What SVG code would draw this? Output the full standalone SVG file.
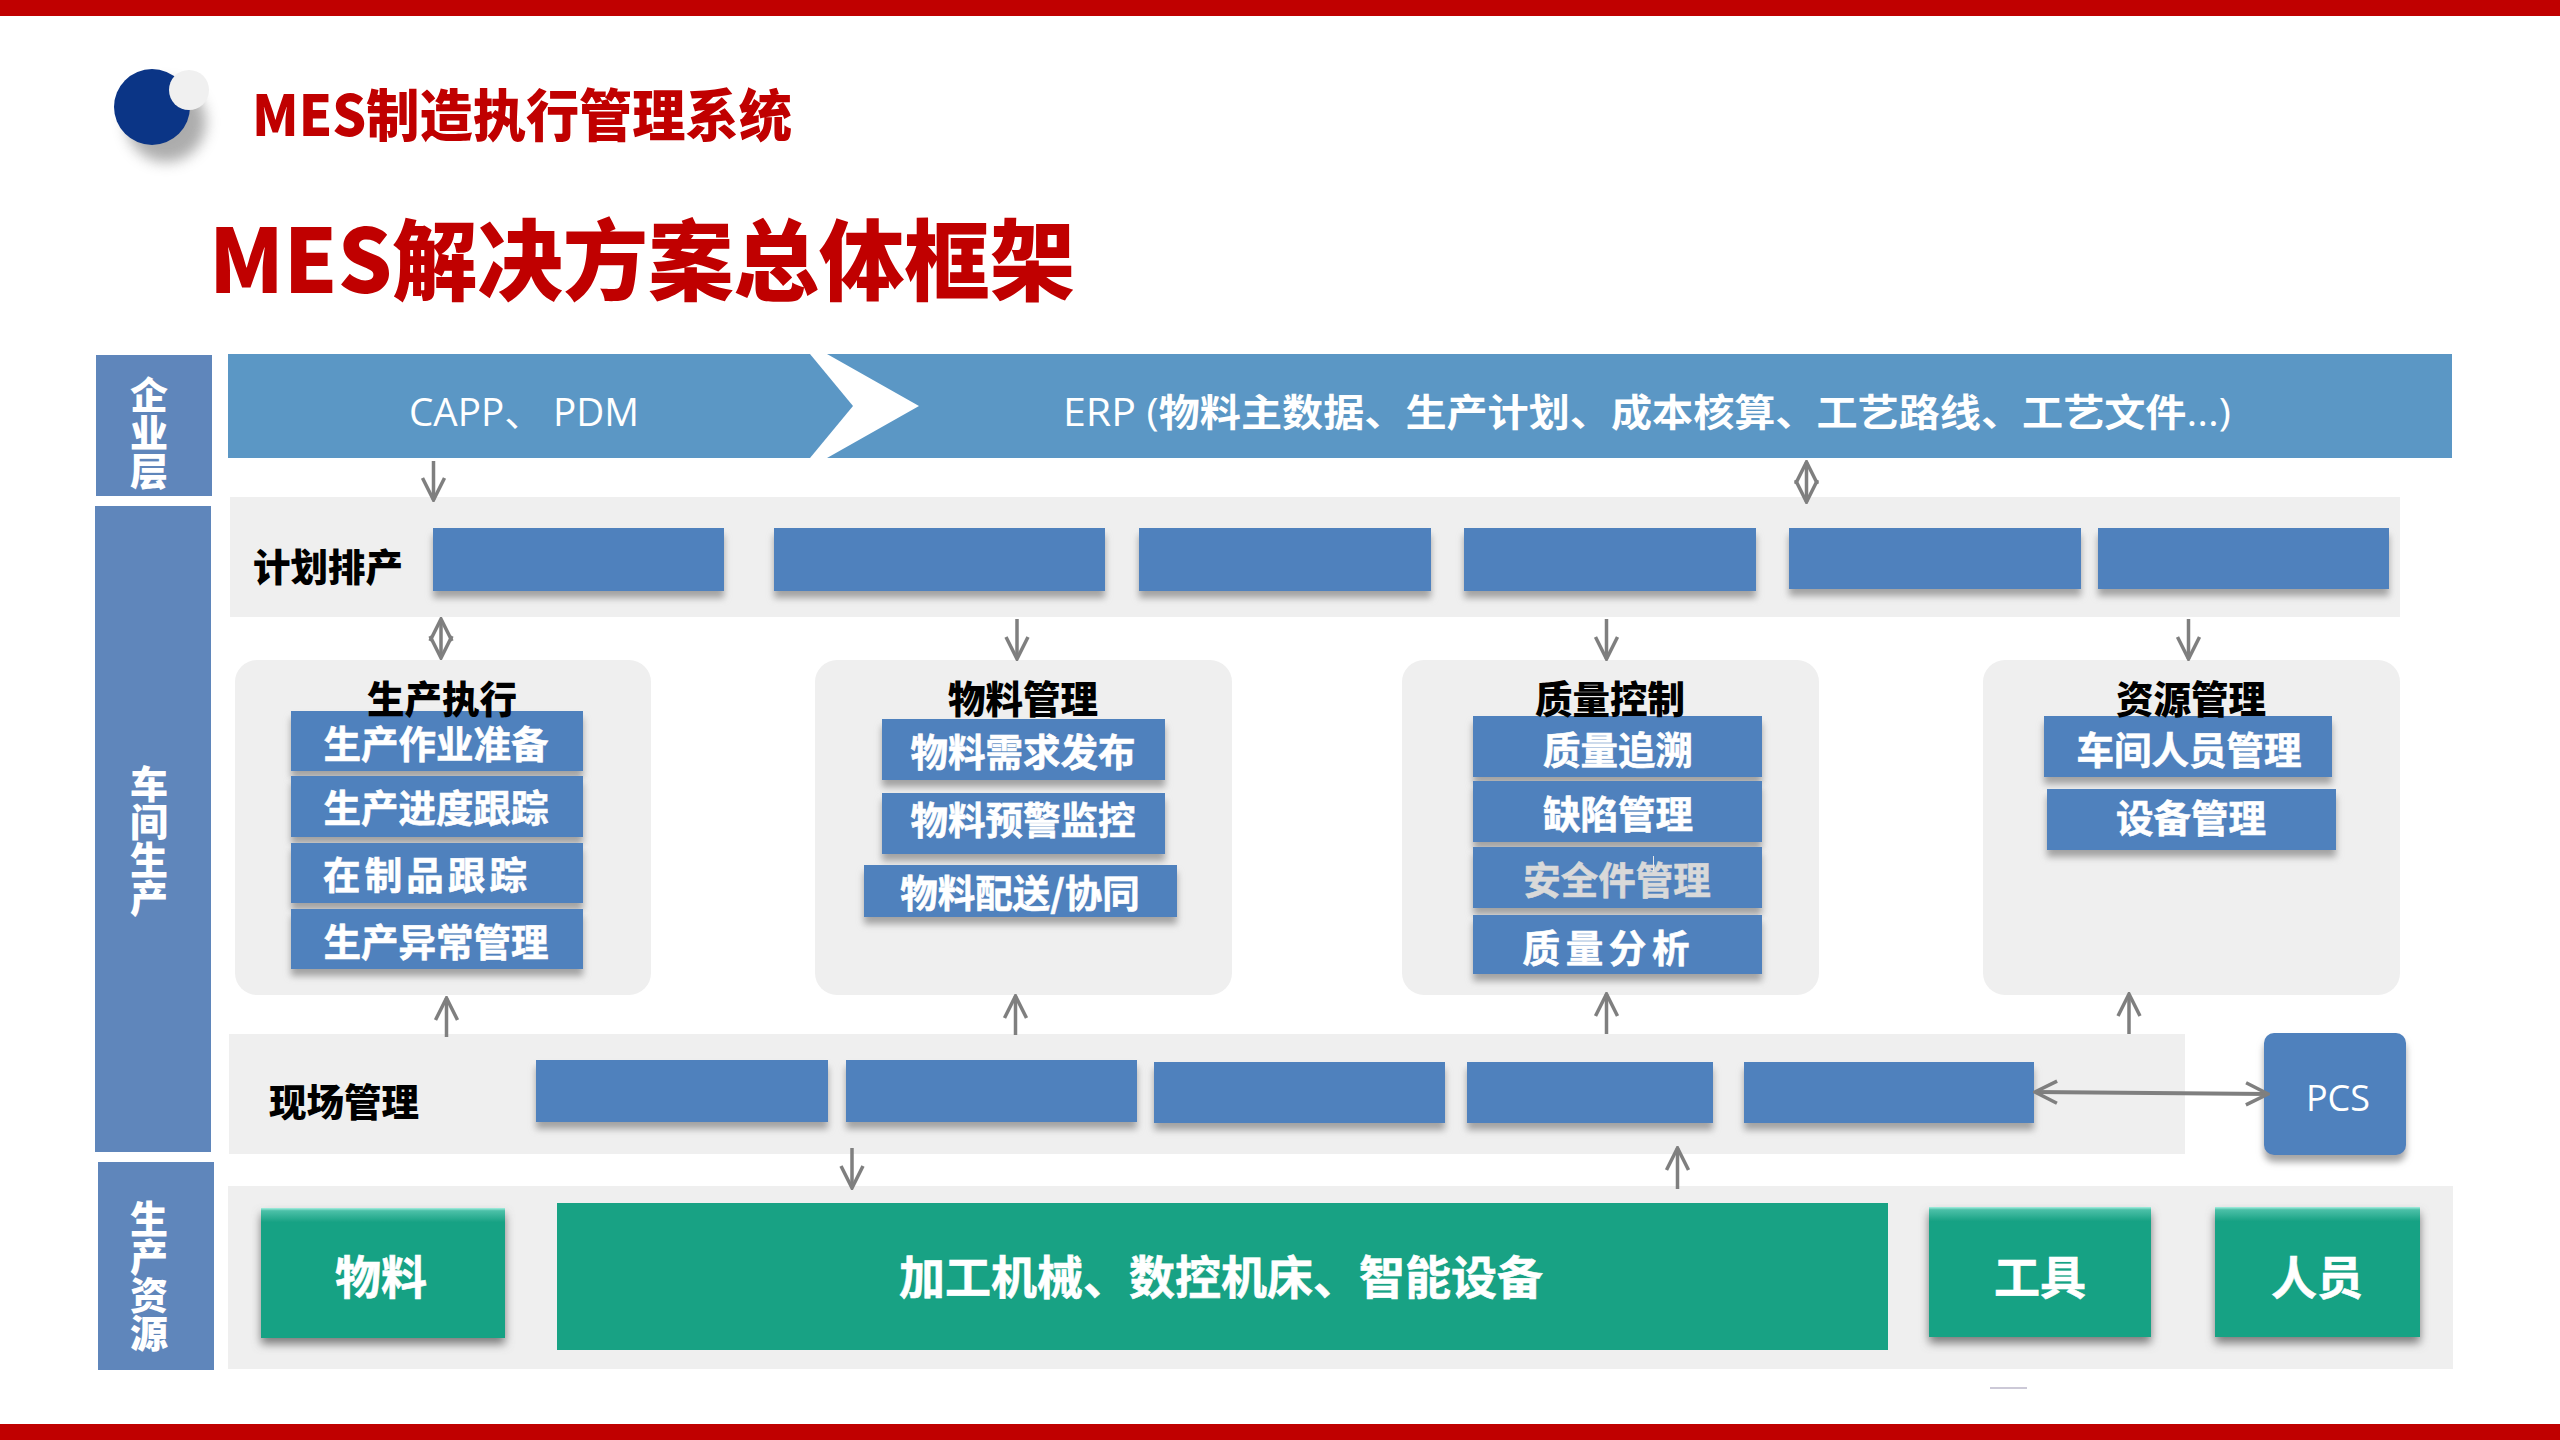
<svg xmlns="http://www.w3.org/2000/svg" width="2560" height="1440" viewBox="0 0 2560 1440">
<style>
text{font-family:"Noto Sans CJK SC","Noto Sans",sans-serif;text-anchor:middle;dominant-baseline:central}
.w{fill:#fff;font-weight:700;stroke:#fff;stroke-width:.6}
.sub{font-size:37.500px}
.k{fill:#000;font-weight:900;font-size:37.500px}
.r{fill:#c00000;font-weight:900}
.v{fill:#fff;font-weight:900;font-size:38px;writing-mode:vertical-rl}
.side{fill:#5f86bb}
.panel{fill:#efefef}
.b{fill:#4f81bd;filter:url(#sh)}
.g{fill:#18a284;filter:url(#shg)}
.a{fill:none;stroke:#7f7f7f;stroke-width:3.500;marker-end:url(#ah)}
.a2{fill:none;stroke:#7f7f7f;stroke-width:3.500;marker-end:url(#ah);marker-start:url(#ahs)}
.lat{font-family:"Open Sans","Noto Sans CJK SC",sans-serif}
</style>
<defs>
<filter id="sh" x="-10%" y="-20%" width="120%" height="150%"><feGaussianBlur in="SourceAlpha" stdDeviation="3.500"/><feOffset dy="7"/><feColorMatrix values="0 0 0 0 .3 0 0 0 0 .3 0 0 0 0 .3 0 0 0 .85 0"/><feMerge><feMergeNode/><feMergeNode in="SourceGraphic"/></feMerge></filter>
<filter id="shg" x="-10%" y="-10%" width="120%" height="125%"><feGaussianBlur in="SourceAlpha" stdDeviation="5"/><feOffset dy="6"/><feColorMatrix values="0 0 0 0 .2 0 0 0 0 .2 0 0 0 0 .2 0 0 0 1 0"/><feMerge><feMergeNode/><feMergeNode in="SourceGraphic"/></feMerge></filter>
<filter id="ls" x="-30%" y="-30%" width="170%" height="170%"><feGaussianBlur stdDeviation="7"/></filter>
<linearGradient id="bevel" x1="0" y1="0" x2="0" y2="1"><stop offset="0" stop-color="#a5efe0"/><stop offset=".2" stop-color="#4cc0a8"/><stop offset="1" stop-color="#18a284"/></linearGradient>
<marker id="ah" markerUnits="userSpaceOnUse" markerWidth="30" markerHeight="28" viewBox="0 0 30 28" refX="28" refY="14" orient="auto"><path d="M6 3 L28 14 L6 25" fill="none" stroke="#7f7f7f" stroke-width="3.500"/></marker>
<marker id="ahs" markerUnits="userSpaceOnUse" markerWidth="30" markerHeight="28" viewBox="0 0 30 28" refX="2" refY="14" orient="auto"><path d="M24 3 L2 14 L24 25" fill="none" stroke="#7f7f7f" stroke-width="3.500"/></marker>
</defs>
<rect width="2560" height="1440" fill="#fff"/>
<rect width="2560" height="16" fill="#c00000"/>
<rect y="1424" width="2560" height="16" fill="#c00000"/>
<g id="logo">
<circle cx="166" cy="122" r="40" fill="#8a8a8a" opacity=".7" filter="url(#ls)"/>
<circle cx="152" cy="107" r="38" fill="#0b3586"/>
<circle cx="189" cy="90" r="20" fill="#f0f0f0"/>
</g>
<text id="heading" class="r" x="522" y="111" font-size="56" textLength="540" lengthAdjust="spacingAndGlyphs">MES制造执行管理系统</text>
<text id="title" class="r" x="642" y="254" font-size="88" textLength="866" lengthAdjust="spacingAndGlyphs">MES解决方案总体框架</text>
<g id="side-enterprise"><rect class="side" x="96" y="355" width="116" height="141"/><text class="v" x="149" y="433">企业层</text></g>
<g id="side-workshop"><rect class="side" x="95" y="506" width="116" height="646"/><text class="v" x="149" y="841">车间生产</text></g>
<g id="side-resource"><rect class="side" x="98" y="1162" width="116" height="208"/><text class="v" x="149" y="1276">生产资源</text></g>
<g id="banner-capp"><polygon points="228,354 810,354 853,406 810,458 228,458" fill="#5b97c5"/><text class="lat" x="524" y="411" font-size="38" fill="#fff" textLength="230" lengthAdjust="spacingAndGlyphs">CAPP、 PDM</text></g>
<g id="banner-erp"><polygon points="827,354 2452,354 2452,458 827,458 919,406" fill="#5b97c5"/><text class="lat" x="1647" y="411" font-size="38" fill="#fff" textLength="1168" lengthAdjust="spacingAndGlyphs">ERP (<tspan font-weight="700">物料主数据、生产计划、成本核算、工艺路线、工艺文件</tspan>...)</text></g>
<g id="planning"><rect class="panel" x="230" y="497" width="2170" height="120"/><text class="k" x="328" y="564">计划排产</text>
<rect class="b" x="433" y="528" width="291" height="63"/><rect class="b" x="774" y="528" width="331" height="63"/><rect class="b" x="1139" y="528" width="292" height="63"/><rect class="b" x="1464" y="528" width="292" height="63"/><rect class="b" x="1789" y="528" width="292" height="61"/><rect class="b" x="2098" y="528" width="291" height="61"/></g>
<g id="exec"><rect class="panel" x="235" y="660" width="416" height="335" rx="22"/>
<rect class="b" x="291" y="711" width="292" height="60"/><rect class="b" x="291" y="776" width="292" height="61"/><rect class="b" x="291" y="843" width="292" height="60"/><rect class="b" x="291" y="909" width="292" height="60"/>
<text class="k" x="442" y="696">生产执行</text>
<text class="w sub" x="436" y="741.500">生产作业准备</text><text class="w sub" x="436" y="805.500">生产进度跟踪</text><text class="w sub" x="425" y="872.500" textLength="204">在制品跟踪</text><text class="w sub" x="436" y="939.500">生产异常管理</text></g>
<g id="material"><rect class="panel" x="815" y="660" width="417" height="335" rx="22"/>
<rect class="b" x="882" y="719" width="283" height="61"/><rect class="b" x="882" y="793" width="283" height="61"/><rect class="b" x="864" y="865" width="313" height="52"/>
<text class="k" x="1023" y="696">物料管理</text>
<text class="w sub" x="1023" y="749">物料需求发布</text><text class="w sub" x="1023" y="817">物料预警监控</text><text class="w sub" x="1020" y="890">物料配送/协同</text></g>
<g id="quality"><rect class="panel" x="1402" y="660" width="417" height="335" rx="22"/>
<rect class="b" x="1473" y="716" width="289" height="61"/><rect class="b" x="1473" y="781" width="289" height="61"/><rect class="b" x="1473" y="847" width="289" height="61"/><rect class="b" x="1473" y="915" width="289" height="59"/>
<text class="k" x="1610" y="696">质量控制</text>
<text class="w sub" x="1618" y="747">质量追溯</text><text class="w sub" x="1618" y="811">缺陷管理</text><text class="sub" x="1617" y="877" fill="#d9d9d9" stroke="#d9d9d9" stroke-width=".6" font-weight="700">安全件管理</text><text class="w sub" x="1606" y="945" textLength="167">质量分析</text><rect x="1653" y="856" width="1" height="15" fill="#e8e8e8"/></g>
<g id="resources"><rect class="panel" x="1983" y="660" width="417" height="335" rx="22"/>
<rect class="b" x="2044" y="716" width="288" height="61"/><rect class="b" x="2047" y="789" width="289" height="61"/>
<text class="k" x="2191" y="696">资源管理</text>
<text class="w sub" x="2189" y="747">车间人员管理</text><text class="w sub" x="2191" y="815">设备管理</text></g>
<g id="site"><rect class="panel" x="229" y="1034" width="1956" height="120"/><text class="k" x="344" y="1099">现场管理</text>
<rect class="b" x="536" y="1060" width="292" height="62"/><rect class="b" x="846" y="1060" width="291" height="62"/><rect class="b" x="1154" y="1062" width="291" height="61"/><rect class="b" x="1467" y="1062" width="246" height="61"/><rect class="b" x="1744" y="1062" width="290" height="61"/></g>
<g id="pcs"><rect class="b" x="2264" y="1033" width="142" height="122" rx="10"/><text class="lat" x="2338" y="1097" font-size="36" fill="#fff">PCS</text></g>
<g id="production-resources"><rect class="panel" x="228" y="1186" width="2225" height="183"/></g>
<g id="res-material"><rect class="g" x="261" y="1208" width="244" height="130"/><rect x="261" y="1208" width="244" height="14" fill="url(#bevel)"/><text class="w" x="381" y="1274" font-size="46">物料</text></g>
<g id="res-machines"><rect x="557" y="1203" width="1331" height="147" fill="#18a284"/><text class="w" x="1221" y="1274" font-size="46">加工机械、数控机床、智能设备</text></g>
<g id="res-tools"><rect class="g" x="1929" y="1207" width="222" height="130"/><rect x="1929" y="1207" width="222" height="14" fill="url(#bevel)"/><text class="w" x="2040" y="1274" font-size="46">工具</text></g>
<g id="res-people"><rect class="g" x="2215" y="1207" width="205" height="130"/><rect x="2215" y="1207" width="205" height="14" fill="url(#bevel)"/><text class="w" x="2317" y="1274" font-size="46">人员</text></g>
<rect x="1990" y="1387" width="37" height="2" fill="#9a94b0" opacity=".5"/>
<g id="connectors">
<path class="a" d="M433.500 461V500"/>
<path class="a2" d="M1806.500 462V502"/>
<path class="a2" d="M441 619V658"/>
<path class="a" d="M1017 619V659"/>
<path class="a" d="M1606.500 619V659"/>
<path class="a" d="M2188.500 619V659"/>
<path class="a" d="M446.500 1037V998"/>
<path class="a" d="M1015.500 1035V996"/>
<path class="a" d="M1606.500 1034V994"/>
<path class="a" d="M2129 1034V994"/>
<path class="a2" d="M2035 1092L2268 1094" style="stroke-width:4"/>
<path class="a" d="M852 1148V1188"/>
<path class="a" d="M1677.500 1189V1148"/>
</g>
</svg>
